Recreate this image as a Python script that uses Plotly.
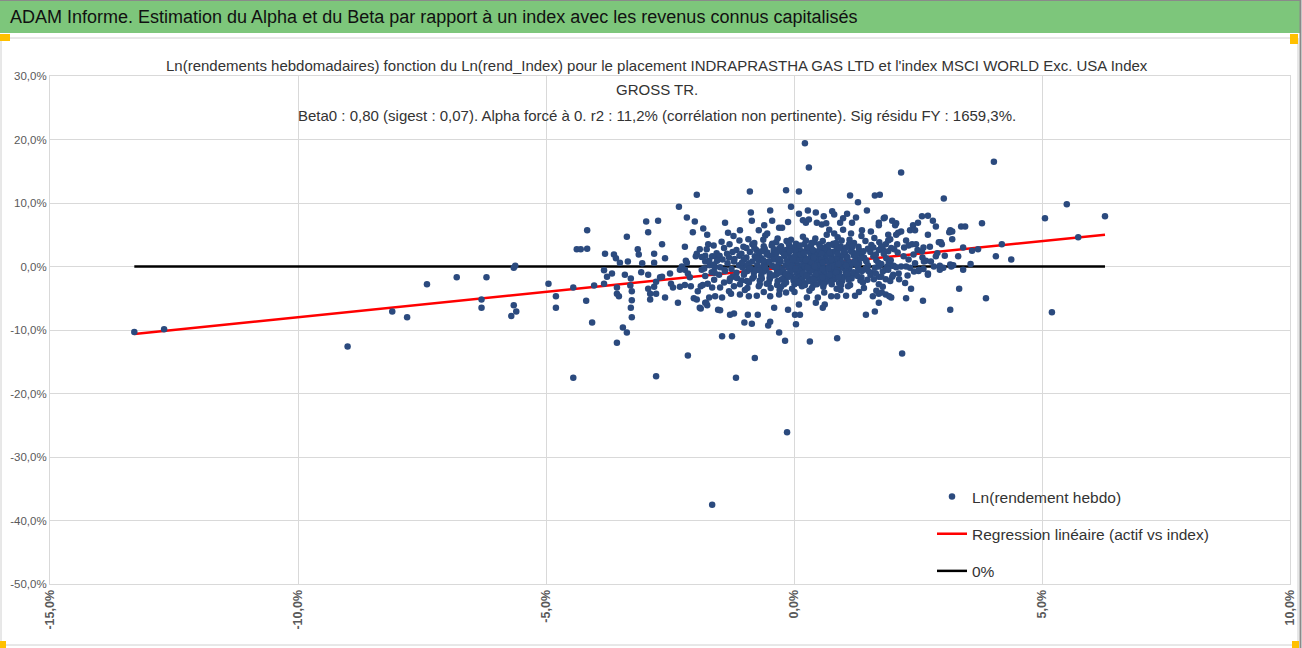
import plotly.graph_objects as go

# --- data (weekly log returns in %) ---
outer_pts = [
    (-13.3, -10.3), (-12.7, -9.9), (-9.0, -12.6), (-8.1, -7.1), (-7.8, -8.0), (-7.4, -2.8),
    (-6.8, -1.7), (-6.2, -1.7), (-6.3, -5.2), (-6.3, -6.5), (-5.7, -7.8), (-5.6, -7.1),
    (-5.65, -6.1), (-5.65, -0.2), (-5.62, 0.1), (-4.95, -2.7), (-4.8, -4.7), (-4.8, -6.5),
    (-4.45, -3.3), (-4.45, -17.5), (-4.38, 2.7), (-4.3, 2.7), (-4.17, 5.7), (-4.17, 2.8),
    (-4.19, -5.4), (-4.03, -3.0), (-4.07, -8.8), (-3.83, -0.6), (-3.83, -2.7), (-3.81, 2.0),
    (-3.77, -1.6), (-3.67, -1.1), (-3.63, 1.9), (-3.59, 1.3), (-3.57, -3.3), (-3.57, -4.3),
    (-3.53, -4.7), (-3.57, -12.0), (-3.51, 0.6), (-3.45, -9.6), (-3.41, -1.3), (-3.37, -10.4),
    (-3.37, 4.7), (-3.35, 0.8), (-3.3, -3.0), (-3.29, -1.9), (-3.29, -6.5), (-3.27, -8.0),
    (-3.27, -3.9), (-3.27, -5.3), (-3.15, 2.7), (-3.13, 1.9), (-3.08, -0.9), (-3.06, 0.5),
    (-2.98, 7.1), (-2.94, 5.4), (-2.94, -1.3), (-2.94, -3.5), (-2.9, -4.3), (-2.9, -5.2),
    (-2.82, 2.0), (-2.82, 0.6), (-2.82, -3.2), (-2.78, -4.3), (-2.78, -2.4), (-2.78, -17.3),
    (-2.74, 7.2), (-2.7, -1.7), (-2.66, 3.5), (-2.66, -1.6), (-2.6, 1.3), (-2.6, -4.9),
    (-2.5, -1.1), (-2.48, -2.7), (-2.44, -3.3), (-2.32, 9.4), (-2.34, -5.7), (-2.3, -0.5),
    (-2.3, -3.2), (-2.26, 0.0), (-2.2, 3.1), (-2.18, 0.9), (-2.16, 0.6), (-2.16, 7.7),
    (-2.2, -2.9), (-2.2, -0.5), (-2.14, -1.1), (-2.14, -14.0), (-2.1, -1.7), (-2.08, -3.1),
    (-2.04, 5.4), (-2.0, 7.1), (-2.02, -5.0), (-1.98, 1.6), (-1.96, 2.0), (-1.96, 11.3),
    (-1.96, -5.2), (-1.94, -3.9), (-1.9, 2.7), (-1.88, -3.1), (-1.86, -0.5), (-1.84, -2.9),
    (-1.83, 6.0), (-1.79, 1.7), (-1.79, 0.8), (-1.88, -6.6), (-1.79, -5.7), (-1.75, 5.0),
    (-1.75, -6.1), (-1.73, 3.5), (-1.7, 0.2), (-1.65, 1.6), (-1.65, -3.3), (-1.65, -37.5),
    (-1.6, -0.1), (-1.57, 1.6), (-1.71, -4.9), (-1.53, -6.8), (-1.45, -11.0), (-1.25, -11.0),
    (-1.17, -17.5), (-0.79, -14.4), (-0.3, -10.4), (-0.18, -11.7), (0.32, -11.8), (0.87, -11.3),
    (-0.14, -26.1), (0.04, -9.1), (-0.48, -8.7), (-0.52, -9.3), (-1.0, -8.8), (-0.85, -9.0),
    (-1.29, -7.6), (-1.21, -7.4), (-0.93, -7.6), (-0.73, -7.6), (-0.4, -6.5), (-0.12, -6.8),
    (0.02, -7.6), (0.12, -7.6), (0.1, -6.0), (0.62, -6.0), (0.44, -5.7), (0.58, -6.5),
    (1.45, -7.6), (1.63, -7.1), (-1.9, -6.5), (-1.77, -5.7), (-1.49, -6.9), (-1.59, -4.7),
    (-1.45, -4.9), (-1.27, -4.3), (-1.09, -4.4), (-0.91, -4.7), (-0.75, -4.6), (-0.48, -4.7),
    (-0.3, -4.4), (-0.16, -4.1), (0.26, -4.9), (0.48, -4.9), (0.75, -4.7), (0.87, -4.7),
    (1.05, -4.6), (1.23, -4.6), (1.59, -4.7), (1.71, -4.3), (1.85, -4.4), (1.96, -4.9),
    (-0.89, 11.8), (-0.16, 12.0), (0.1, 11.8), (1.13, 11.2), (1.63, 11.2), (1.73, 11.3),
    (1.29, 10.1), (-0.06, 9.4), (1.47, 8.8), (-0.87, 8.5), (-0.85, 7.2), (-0.48, 8.8),
    (-0.44, 7.2), (0.1, 8.3), (0.28, 8.8), (0.44, 8.5), (0.6, 7.9), (0.77, 8.7), (0.81, 8.2),
    (0.99, 7.6), (1.07, 8.3), (1.25, 7.7), (1.17, 6.9), (0.93, 6.9), (-1.39, 6.9),
    (-1.33, 5.3), (-1.09, 5.7), (-0.71, 5.7), (-0.6, 6.5), (-0.54, 5.2), (-0.3, 6.1),
    (-0.24, 6.1), (-0.12, 7.0), (0.18, 7.3), (0.24, 6.9), (0.3, 7.4), (0.46, 6.9), (0.56, 6.6),
    (0.65, 6.8), (0.71, 5.8), (0.81, 5.2), (0.99, 5.8), (1.15, 5.2), (1.37, 5.7), (1.55, 5.5),
    (1.71, 6.5), (1.81, 7.6), (1.98, 7.2), (2.06, 6.8), (2.1, 5.3),
    (2.58, 7.9), (2.7, 8.0), (2.8, 7.2), (2.86, 6.3), (2.5, 6.9), (2.4, 6.5), (2.34, 5.7),
    (2.44, 5.7), (2.04, 6.5), (1.83, 7.7), (1.71, 6.9), (2.16, 5.5), (1.9, 5.0), (2.06, 5.0),
    (1.94, 4.3), (1.85, 3.5), (2.08, 3.5), (1.79, 2.7), (2.02, 2.7), (2.22, 3.0), (2.38, 3.5),
    (2.46, 3.5), (2.58, 2.4), (2.74, 3.1), (2.7, 5.0), (2.92, 3.8), (2.98, 3.5), (3.13, 5.4),
    (3.19, 5.5), (3.19, 4.3), (3.15, 5.7), (3.31, 1.6), (3.41, 3.0), (3.59, 2.5), (3.71, 2.7),
    (4.07, 1.6), (4.19, 3.5), (4.38, 1.1), (3.79, 6.8), (3.37, 6.3), (3.45, 6.3),
    (1.71, 0.0), (1.88, 0.0), (1.98, 0.1), (2.16, 0.0), (2.34, -0.2), (2.42, -0.8), (2.66, 0.9),
    (2.82, 0.0), (2.94, 0.1), (3.15, 0.3), (3.17, 0.0), (2.7, -1.3), (2.52, -0.5), (2.26, 0.0),
    (1.71, -1.6), (1.85, -2.0), (1.98, -1.6), (2.12, -2.0), (1.77, -4.1), (1.92, -4.7),
    (1.71, -5.7), (2.26, -5.0), (2.36, -3.5), (2.6, -5.4), (3.33, -3.5), (3.15, -6.8),
    (3.87, -5.0), (5.2, -7.2), (2.18, -13.7), (2.62, 0.8), (2.7, -1.1), (2.86, 1.6),
    (2.94, -0.5), (2.96, 3.8),
    (0.22, 19.4), (0.3, 15.6), (2.16, 14.8), (4.03, 16.5), (3.02, 10.7), (5.5, 9.8),
    (5.06, 7.6), (6.27, 7.9), (5.73, 4.6),
]

core_pts = [
    (-1.22, 4.8), (-0.92, 4.3), (-0.58, 4.9), (-0.33, 4.4), (-0.06, 4.2), (0.18, 4.7), (0.43, 4.4),
    (0.66, 5.0), (0.88, 4.6), (1.12, 4.2), (1.36, 4.8), (1.62, 4.5), (1.9, 4.1),
    (-1.46, 3.9), (-1.1, 4.1), (-0.8, 3.7), (-0.62, 4.2), (-0.36, 3.8), (-0.15, 4.0), (0.04, 3.6),
    (0.24, 4.1), (0.41, 3.8), (0.58, 4.0), (0.79, 3.6), (0.96, 4.1), (1.21, 3.7), (1.44, 4.0),
    (1.72, 3.8), (2.26, 4.1),
    (-1.62, 3.3), (-1.3, 3.5), (-1.02, 3.1), (-0.84, 3.5), (-0.61, 3.2), (-0.44, 3.6), (-0.26, 3.2),
    (-0.1, 3.4), (0.06, 3.1), (0.21, 3.5), (0.34, 3.2), (0.51, 3.5), (0.66, 3.1), (0.79, 3.4),
    (0.94, 3.2), (1.11, 3.5), (1.3, 3.1), (1.56, 3.4), (1.76, 3.2), (2.31, 3.3), (2.61, 3.0),
    (-1.76, 2.7), (-1.41, 2.9), (-1.16, 2.6), (-0.96, 2.9), (-0.76, 2.6), (-0.59, 2.8), (-0.41, 2.5),
    (-0.29, 2.9), (-0.16, 2.6), (0.0, 2.9), (0.11, 2.6), (0.26, 2.8), (0.39, 2.5), (0.56, 2.9),
    (0.69, 2.6), (0.86, 2.8), (1.0, 2.5), (1.16, 2.9), (1.31, 2.6), (1.49, 2.8), (1.71, 2.6),
    (1.96, 2.9), (2.49, 2.6),
    (-1.56, 2.1), (-1.24, 2.3), (-1.06, 2.0), (-0.89, 2.3), (-0.71, 2.0), (-0.54, 2.2), (-0.41, 1.9),
    (-0.24, 2.3), (-0.11, 2.0), (0.04, 2.2), (0.16, 1.9), (0.31, 2.3), (0.44, 2.0), (0.61, 2.2),
    (0.73, 1.9), (0.87, 2.3), (1.03, 2.0), (1.19, 2.2), (1.36, 1.9), (1.54, 2.3), (1.81, 2.0),
    (2.09, 2.2), (2.41, 1.9), (2.89, 2.1),
    (-1.86, 1.5), (-1.5, 1.7), (-1.31, 1.4), (-1.1, 1.7), (-0.96, 1.4), (-0.79, 1.6), (-0.66, 1.3),
    (-0.49, 1.7), (-0.36, 1.4), (-0.19, 1.6), (-0.06, 1.3), (0.09, 1.7), (0.21, 1.4), (0.34, 1.6),
    (0.49, 1.3), (0.63, 1.7), (0.77, 1.4), (0.93, 1.6), (1.06, 1.3), (1.21, 1.7), (1.41, 1.4),
    (1.6, 1.6), (1.86, 1.3), (2.21, 1.6), (2.59, 1.4), (3.04, 1.7),
    (-1.71, 0.9), (-1.44, 1.1), (-1.21, 0.8), (-1.01, 1.1), (-0.84, 0.8), (-0.71, 1.0), (-0.54, 0.7),
    (-0.41, 1.1), (-0.27, 0.8), (-0.14, 1.0), (0.01, 0.7), (0.13, 1.1), (0.24, 0.8), (0.39, 1.0),
    (0.51, 0.7), (0.64, 1.1), (0.81, 0.8), (0.94, 1.0), (1.11, 0.7), (1.27, 1.1), (1.46, 0.8),
    (1.66, 1.0), (1.91, 0.7), (2.31, 1.1), (2.76, 0.8),
    (-1.61, 0.3), (-1.34, 0.5), (-1.11, 0.2), (-0.91, 0.5), (-0.74, 0.2), (-0.61, 0.4), (-0.44, 0.1),
    (-0.31, 0.5), (-0.17, 0.2), (-0.04, 0.4), (0.09, 0.1), (0.21, 0.5), (0.31, 0.2), (0.46, 0.4),
    (0.57, 0.1), (0.73, 0.5), (0.84, 0.2), (1.01, 0.4), (1.14, 0.1), (1.31, 0.5), (1.49, 0.2),
    (1.76, 0.4), (2.01, 0.1), (2.44, 0.5), (3.21, 0.2), (3.56, 0.4),
    (-1.81, -0.3), (-1.49, -0.1), (-1.26, -0.4), (-1.04, -0.1), (-0.86, -0.4), (-0.69, -0.2),
    (-0.56, -0.5), (-0.39, -0.1), (-0.26, -0.4), (-0.11, -0.2), (0.01, -0.5), (0.14, -0.1),
    (0.29, -0.4), (0.41, -0.2), (0.54, -0.5), (0.69, -0.1), (0.81, -0.4), (0.98, -0.2),
    (1.11, -0.5), (1.29, -0.1), (1.44, -0.4), (1.63, -0.2), (1.84, -0.5), (2.06, -0.1),
    (2.61, -0.4), (3.01, -0.2), (3.41, -0.5),
    (-1.66, -0.9), (-1.39, -0.7), (-1.16, -1.0), (-0.94, -0.7), (-0.81, -1.0), (-0.61, -0.8),
    (-0.49, -1.1), (-0.34, -0.7), (-0.21, -1.0), (-0.07, -0.8), (0.06, -1.1), (0.17, -0.7),
    (0.31, -1.0), (0.44, -0.8), (0.61, -1.1), (0.74, -0.7), (0.91, -1.0), (1.04, -0.8),
    (1.21, -1.1), (1.37, -0.7), (1.56, -1.0), (1.79, -0.8), (2.11, -1.1), (2.51, -0.7),
    (-1.79, -1.5), (-1.51, -1.3), (-1.24, -1.6), (-1.01, -1.3), (-0.81, -1.6), (-0.66, -1.4),
    (-0.49, -1.7), (-0.36, -1.3), (-0.19, -1.6), (-0.06, -1.4), (0.11, -1.7), (0.24, -1.3),
    (0.41, -1.6), (0.54, -1.4), (0.71, -1.7), (0.84, -1.3), (1.01, -1.6), (1.17, -1.4),
    (1.36, -1.7), (1.54, -1.3), (1.76, -1.6), (2.29, -1.4),
    (-1.61, -2.1), (-1.29, -1.9), (-1.06, -2.2), (-0.84, -1.9), (-0.69, -2.2), (-0.49, -2.0),
    (-0.33, -2.3), (-0.17, -1.9), (-0.01, -2.2), (0.16, -2.0), (0.29, -2.3), (0.49, -1.9),
    (0.61, -2.2), (0.81, -2.0), (0.97, -2.3), (1.16, -1.9), (1.34, -2.2), (1.61, -2.0), (1.94, -2.3),
    (-1.74, -2.7), (-1.41, -2.5), (-1.09, -2.8), (-0.91, -2.5), (-0.69, -2.8), (-0.51, -2.6),
    (-0.34, -2.9), (-0.16, -2.5), (0.01, -2.8), (0.19, -2.6), (0.39, -2.9), (0.54, -2.5),
    (0.76, -2.8), (0.91, -2.6), (1.13, -2.9), (1.39, -2.5), (1.71, -2.8), (2.24, -2.6),
    (-1.49, -3.3), (-1.21, -3.1), (-0.94, -3.4), (-0.71, -3.1), (-0.47, -3.4), (-0.26, -3.2),
    (-0.04, -3.5), (0.16, -3.1), (0.36, -3.4), (0.59, -3.2), (0.86, -3.5), (1.09, -3.1),
    (1.41, -3.4), (1.79, -3.2),
    (-1.31, -3.9), (-0.99, -3.7), (-0.61, -4.0), (-0.29, -3.7), (0.01, -4.0), (0.31, -3.8),
    (0.61, -4.1), (0.94, -3.7), (1.31, -4.0), (1.66, -3.8),
]

dense_pts = [
    (-0.05, 3.0), (0.15, 2.4), (0.3, 3.0), (0.48, 2.4), (0.62, 3.0), (0.78, 2.3), (0.92, 2.9),
    (-0.2, 1.9), (0.0, 1.5), (0.14, 1.9), (0.28, 1.2), (0.42, 1.8), (0.55, 1.1), (0.7, 1.9),
    (0.86, 1.2), (1.0, 1.8), (-0.3, 0.7), (-0.1, 0.6), (0.06, 0.9), (0.18, 0.3), (0.34, 0.7),
    (0.5, 0.2), (0.66, 0.8), (0.8, 0.1), (0.94, 0.7), (-0.22, -0.7), (-0.04, 0.0), (0.1, -0.6),
    (0.22, 0.0), (0.36, -0.6), (0.48, 0.1), (0.62, -0.7), (0.76, 0.0), (0.88, -0.6),
    (-0.16, -1.2), (0.02, -1.9), (0.18, -1.1), (0.34, -1.9), (0.5, -1.1), (0.66, -1.9),
    (0.8, -1.2), (0.96, -1.9), (0.1, -2.6), (0.3, -2.3), (0.46, -2.8), (0.64, -2.4),
    (-0.4, 2.7), (-0.55, 1.9), (-0.5, 0.8), (-0.58, -0.2), (-0.42, -1.4), (1.15, 2.4),
    (1.25, 0.4), (1.2, -0.9), (1.35, 1.3), (-0.75, 1.3), (-0.78, -0.6), (-0.95, 0.2),
    (1.45, -0.3), (1.05, 3.0),
    (-1.35, 2.0), (-1.2, 1.2), (-1.05, 0.6), (-0.9, -0.3), (-1.0, -1.0), (-1.15, -1.8),
    (-0.95, -2.3), (-0.8, 3.0), (-0.65, 2.4), (-0.62, 1.0), (-0.7, -0.6), (-0.65, -1.9),
    (-0.55, -2.7), (-0.45, 3.3), (-0.35, 2.2), (-0.3, 1.2), (-0.35, -0.1), (-0.3, -1.0),
    (-0.25, -2.0), (-0.2, -2.8), (-0.12, 3.8), (-0.08, 2.4), (-0.02, 1.1), (0.03, -0.3),
    (-0.1, -1.6), (0.08, -2.4), (0.12, 3.3), (0.2, 2.1), (0.24, 1.0), (0.27, -0.2),
    (0.25, -1.5), (0.22, -2.9), (0.35, 3.7), (0.38, 2.6), (0.4, 1.4), (0.42, 0.0),
    (0.44, -1.2), (0.4, -2.1), (0.52, 3.2), (0.55, 2.0), (0.58, 0.6), (0.58, -0.4),
    (0.57, -1.7), (0.6, -2.8), (0.7, 3.4), (0.72, 2.2), (0.75, 1.1), (0.7, -0.3),
    (0.72, -1.3), (0.75, -2.4), (0.85, 3.7), (0.88, 2.0), (0.9, 0.4), (0.85, -0.9),
    (0.9, -1.7), (0.95, -2.9), (1.02, 2.4), (1.08, 1.5), (1.05, 0.1), (1.08, -1.2),
    (1.1, -2.1), (1.18, 3.2), (1.25, 1.9), (1.22, 0.8), (1.3, -0.6), (1.28, -1.5),
    (1.4, 2.4), (1.45, 1.0), (1.5, -0.7), (1.48, -2.1), (1.6, 3.0), (1.65, 1.9),
    (1.7, 0.6), (1.65, -1.1), (1.9, 2.4), (1.95, 1.0), (1.9, -0.5), (2.0, -1.3),
    (-1.4, -0.5), (-1.55, 0.9), (-1.3, -2.3), (-1.6, -1.0),
]

beta0 = 0.80

x_ticks = [-15, -10, -5, 0, 5, 10]
x_labels = ["-15,0%", "-10,0%", "-5,0%", "0,0%", "5,0%", "10,0%"]
y_ticks = [-50, -40, -30, -20, -10, 0, 10, 20, 30]
y_labels = ["-50,0%", "-40,0%", "-30,0%", "-20,0%", "-10,0%", "0,0%", "10,0%", "20,0%", "30,0%"]

header = "ADAM Informe. Estimation du Alpha et du Beta par rapport à un index avec les revenus connus capitalisés"
title_lines = [
    "Ln(rendements hebdomadaires) fonction du Ln(rend_Index) pour le placement INDRAPRASTHA GAS LTD et l'index MSCI WORLD Exc. USA Index",
    "GROSS TR.",
    "Beta0 : 0,80 (sigest : 0,07). Alpha forcé à 0. r2 : 11,2% (corrélation non pertinente). Sig résidu FY : 1659,3%.",
]

pts = outer_pts + core_pts + dense_pts
xs = [p[0] for p in pts]
ys = [p[1] for p in pts]
x_line = [min(xs), max(xs)]
y_reg = [beta0 * v for v in x_line]

W, H = 1302, 648
L, R, T, B = 50, 12, 76, 64
PW, PH = W - L - R, H - T - B


def px(p):
    return (p - L) / PW


def py(p):
    return (H - B - p) / PH


FONT = "Liberation Sans, Arial, sans-serif"

fig = go.Figure()
fig.add_trace(go.Scatter(x=x_line, y=[0, 0], mode="lines", name="0%",
                         line=dict(color="black", width=2.5),
                         legendgroup="c", legendrank=3))
fig.add_trace(go.Scatter(x=x_line, y=y_reg, mode="lines", name="Regression linéaire (actif vs index)",
                         line=dict(color="#ff0000", width=2.5),
                         legendgroup="b", legendrank=2))
fig.add_trace(go.Scatter(x=xs, y=ys, mode="markers", name="Ln(rendement hebdo)",
                         marker=dict(color="#2b4a7e", size=6.5),
                         legendgroup="a", legendrank=1))

shapes = [
    # outer chart frame
    dict(type="rect", xref="paper", yref="paper", x0=px(1), x1=px(1298), y0=py(645), y1=py(38),
         line=dict(color="#d0d0d0", width=1), fillcolor="rgba(0,0,0,0)", layer="below"),
    # green header band
    dict(type="rect", xref="paper", yref="paper", x0=px(0), x1=px(1300), y0=py(33), y1=py(0),
         line=dict(width=0), fillcolor="#7dc67b"),
    dict(type="line", xref="paper", yref="paper", x0=px(0), x1=px(1300), y0=py(0.5), y1=py(0.5),
         line=dict(color="#8a8a8a", width=1)),
    # window right edge
    dict(type="line", xref="paper", yref="paper", x0=px(1300.5), x1=px(1300.5), y0=py(648), y1=py(0),
         line=dict(color="#8a8a8a", width=2)),
    # white box behind the chart title
    dict(type="rect", xref="paper", yref="paper", x0=px(148), x1=px(1148), y0=py(128), y1=py(48),
         line=dict(width=0), fillcolor="white", layer="below"),
    # selection handles
    dict(type="rect", xref="paper", yref="paper", x0=px(0), x1=px(10), y0=py(41), y1=py(34),
         line=dict(width=0), fillcolor="#ffc000"),
    dict(type="rect", xref="paper", yref="paper", x0=px(1290), x1=px(1298), y0=py(44), y1=py(34),
         line=dict(width=0), fillcolor="#ffc000"),
    dict(type="rect", xref="paper", yref="paper", x0=px(0), x1=px(6), y0=py(648), y1=py(641),
         line=dict(width=0), fillcolor="#ffc000"),
    dict(type="rect", xref="paper", yref="paper", x0=px(1292), x1=px(1299), y0=py(648), y1=py(641),
         line=dict(width=0), fillcolor="#ffc000"),
]

annotations = [
    dict(text=header, xref="paper", yref="paper", x=px(8), y=py(17), xanchor="left", yanchor="middle",
         showarrow=False, font=dict(family=FONT, size=18, color="#111111")),
]
for line_txt, ypos in zip(title_lines, [65, 90, 116]):
    annotations.append(dict(text=line_txt, xref="paper", yref="paper", x=px(657), y=py(ypos),
                            xanchor="center", yanchor="middle", showarrow=False,
                            font=dict(family=FONT, size=15, color="#333333")))

fig.update_layout(
    width=W, height=H,
    margin=dict(l=L, r=R, t=T, b=B),
    paper_bgcolor="white", plot_bgcolor="white",
    font=dict(family=FONT, color="#595959"),
    showlegend=True,
    legend=dict(x=px(932), y=py(480), xanchor="left", yanchor="top",
                bgcolor="rgba(0,0,0,0)", traceorder="grouped", tracegroupgap=14,
                font=dict(family=FONT, size=15.5, color="#333333"), itemwidth=30),
    shapes=shapes,
    annotations=annotations,
    xaxis=dict(range=[-15, 10], tickvals=x_ticks, ticktext=x_labels, tickangle=-90,
               showgrid=True, gridcolor="#d9d9d9", gridwidth=1, zeroline=False,
               showline=True, linecolor="#d9d9d9", mirror=True, ticks="", automargin=False,
               tickfont=dict(family=FONT, size=12.5, color="#595959", weight="bold")),
    yaxis=dict(range=[-50, 30], tickvals=y_ticks, ticktext=y_labels,
               showgrid=True, gridcolor="#d9d9d9", gridwidth=1, zeroline=False,
               showline=True, linecolor="#d9d9d9", mirror=True, ticks="", automargin=False,
               tickfont=dict(family=FONT, size=11.5, color="#595959")),
)

# the page's default body margin would shift the figure by 8 px
fig.write_html("out.html", config={"displayModeBar": False},
               post_script="document.body.style.margin='0';")
